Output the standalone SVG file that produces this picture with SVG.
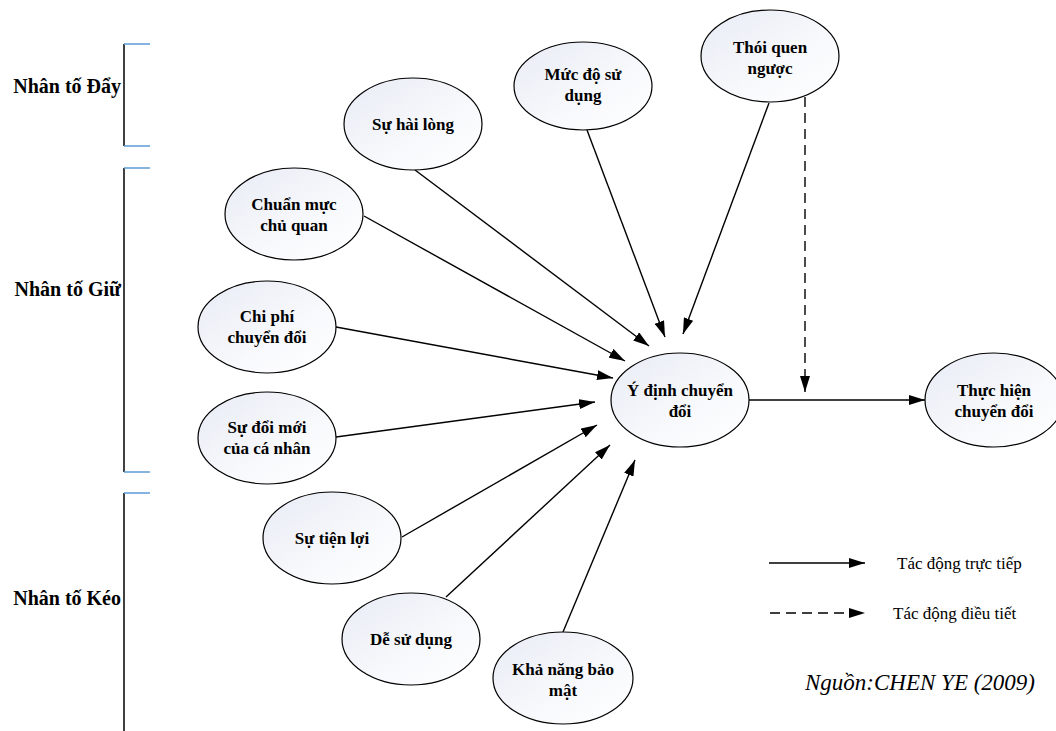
<svg xmlns="http://www.w3.org/2000/svg" width="1056" height="731" viewBox="0 0 1056 731">
  <defs>
    <linearGradient id="nodeFill" x1="0" y1="0" x2="1" y2="1">
      <stop offset="0" stop-color="#e8ebf5"/>
      <stop offset="0.6" stop-color="#f8f9fc"/>
      <stop offset="1" stop-color="#ffffff"/>
    </linearGradient>
    <marker id="arrow" viewBox="0 0 16 10" refX="16" refY="5" markerWidth="16" markerHeight="10" markerUnits="userSpaceOnUse" orient="auto">
      <path d="M0,0 L16,5 L0,10 Z" fill="#000"/>
    </marker>
    <style>
      text { font-family: 'Liberation Serif', 'DejaVu Serif', serif; }
      .node ellipse { fill: url(#nodeFill); stroke: #000; stroke-width: 1.2; }
      .node text { font-weight: bold; font-size: 17px; fill: #000; text-anchor: middle; }
      .edge { stroke: #000; stroke-width: 1.4; fill: none; marker-end: url(#arrow); }
      .dashed { stroke-dasharray: 10 6; }
      .bracket { stroke: #000; stroke-width: 1.5; }
      .tick { stroke: #5b9bd5; stroke-width: 1.5; }
      .group-label { font-weight: bold; font-size: 20px; fill: #000; text-anchor: end; }
      .legend { font-size: 17px; fill: #000; }
      .source { font-style: italic; font-size: 23px; fill: #000; }
    </style>
  </defs>

  <!-- Group brackets -->
  <g id="groups">
    <line class="bracket" x1="124" y1="44" x2="124" y2="146"/>
    <line class="tick" x1="124" y1="44" x2="150" y2="44"/>
    <line class="tick" x1="124" y1="146" x2="150" y2="146"/>
    <text class="group-label" x="121" y="93">Nhân tố Đẩy</text>

    <line class="bracket" x1="124" y1="168" x2="124" y2="472"/>
    <line class="tick" x1="124" y1="168" x2="150" y2="168"/>
    <line class="tick" x1="124" y1="472" x2="150" y2="472"/>
    <text class="group-label" x="121" y="296">Nhân tố Giữ</text>

    <line class="bracket" x1="124" y1="493" x2="124" y2="731"/>
    <line class="tick" x1="124" y1="493" x2="150" y2="493"/>
    <text class="group-label" x="121" y="605">Nhân tố Kéo</text>
  </g>

  <!-- Connectors -->
  <g id="connectors">
    <line class="edge" x1="415" y1="170" x2="649" y2="346"/>
    <line class="edge" x1="587" y1="130" x2="665" y2="337"/>
    <line class="edge" x1="769" y1="103" x2="683" y2="334"/>
    <line class="edge" x1="364" y1="216" x2="625" y2="361"/>
    <line class="edge" x1="336" y1="327" x2="613" y2="378"/>
    <line class="edge" x1="336" y1="437" x2="595" y2="402"/>
    <line class="edge" x1="402" y1="537" x2="597" y2="425"/>
    <line class="edge" x1="446" y1="597" x2="610" y2="445"/>
    <line class="edge" x1="563" y1="632" x2="635" y2="460"/>
    <line class="edge" x1="749" y1="400" x2="925" y2="400"/>
    <line class="edge dashed" x1="805" y1="97" x2="805" y2="392"/>
  </g>

  <!-- Nodes -->
  <g id="node-su-hai-long" class="node">
    <ellipse cx="413" cy="124" rx="69" ry="46"/>
    <text x="413" y="130">Sự hài lòng</text>
  </g>
  <g id="node-muc-do-su-dung" class="node">
    <ellipse cx="583" cy="86" rx="69" ry="44"/>
    <text x="583" y="80">Mức độ sử</text>
    <text x="583" y="101">dụng</text>
  </g>
  <g id="node-thoi-quen-nguoc" class="node">
    <ellipse cx="770" cy="56" rx="69" ry="46"/>
    <text x="770" y="53">Thói quen</text>
    <text x="770" y="74">ngược</text>
  </g>
  <g id="node-chuan-muc-chu-quan" class="node">
    <ellipse cx="294" cy="214" rx="69" ry="46"/>
    <text x="294" y="210">Chuẩn mực</text>
    <text x="294" y="231">chủ quan</text>
  </g>
  <g id="node-chi-phi-chuyen-doi" class="node">
    <ellipse cx="267" cy="327" rx="69" ry="46"/>
    <text x="267" y="322">Chi phí</text>
    <text x="267" y="343">chuyển đổi</text>
  </g>
  <g id="node-su-doi-moi" class="node">
    <ellipse cx="267" cy="438" rx="69" ry="46"/>
    <text x="267" y="433">Sự đổi mới</text>
    <text x="267" y="454">của cá nhân</text>
  </g>
  <g id="node-su-tien-loi" class="node">
    <ellipse cx="332" cy="538" rx="69" ry="46"/>
    <text x="332" y="544">Sự tiện lợi</text>
  </g>
  <g id="node-de-su-dung" class="node">
    <ellipse cx="411" cy="639" rx="69" ry="46"/>
    <text x="411" y="645">Dễ sử dụng</text>
  </g>
  <g id="node-kha-nang-bao-mat" class="node">
    <ellipse cx="563" cy="678" rx="70" ry="46"/>
    <text x="563" y="675">Khả năng bảo</text>
    <text x="563" y="696">mật</text>
  </g>
  <g id="node-y-dinh-chuyen-doi" class="node">
    <ellipse cx="680" cy="400" rx="69" ry="47"/>
    <text x="680" y="396">Ý định chuyển</text>
    <text x="680" y="417">đổi</text>
  </g>
  <g id="node-thuc-hien-chuyen-doi" class="node">
    <ellipse cx="994" cy="400" rx="69" ry="47"/>
    <text x="994" y="396">Thực hiện</text>
    <text x="994" y="417">chuyển đổi</text>
  </g>

  <!-- Legend -->
  <g id="legend">
    <line class="edge" x1="769" y1="563" x2="865" y2="563"/>
    <text class="legend" x="897" y="569">Tác động trực tiếp</text>
    <line class="edge dashed" x1="770" y1="613" x2="865" y2="613"/>
    <text class="legend" x="893" y="619">Tác động điều tiết</text>
    <text class="source" x="805" y="690">Nguồn:CHEN YE (2009)</text>
  </g>
</svg>
